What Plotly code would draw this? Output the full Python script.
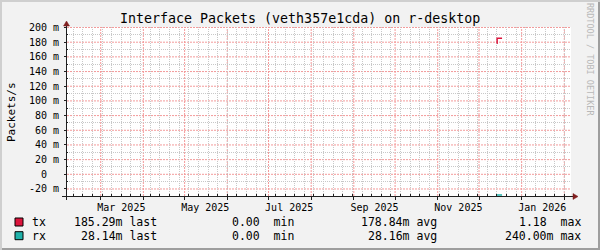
import plotly.graph_objects as go

# ---------------- data ----------------
tx_time = ["2025-12-14 00:00", "2025-12-14 04:00", "2025-12-17 18:00"]
tx_vals = [0.1785, 0.18529, 0.18529]

rx_time = ["2025-12-13 10:00", "2025-12-17 18:00"]
rx_vals = [-0.02816, -0.02814]

y_tickvals = [0.20, 0.18, 0.16, 0.14, 0.12, 0.10, 0.08, 0.06, 0.04, 0.02, 0.0, -0.02]
y_ticktext = ["200 m", "180 m", "160 m", "140 m", "120 m", "100 m", "80 m", "60 m",
              "40 m", "20 m", "0\u00a0\u00a0", "-20 m"]

month_starts = ["2025-03-01", "2025-04-01", "2025-05-01", "2025-06-01", "2025-07-01",
                "2025-08-01", "2025-09-01", "2025-10-01", "2025-11-01", "2025-12-01",
                "2026-01-01", "2026-02-01"]
month_label_pos = ["2025-03-16", "2025-05-16", "2025-07-16", "2025-09-16",
                   "2025-11-16", "2026-01-16"]
month_labels = ["Mar 2025", "May 2025", "Jul 2025", "Sep 2025", "Nov 2025", "Jan 2026"]

x_range = ["2025-02-04 12:00", "2026-02-05 21:00"]
y_range = [-0.02956, 0.2007]

legend_names = ["tx", "rx"]
legend_colors = ["#DC143C", "#20B2AA"]
legend_last = ["185.29m last", "28.14m last"]
legend_min = ["0.00\u00a0\u00a0min", "0.00\u00a0\u00a0min"]
legend_avg = ["178.84m avg", "28.16m avg"]
legend_max = ["1.18\u00a0\u00a0max", "240.00m max"]

title_text = "Interface Packets (veth357e1cda) on r-desktop"
y_title = "Packets/s"
watermark = "RRDTOOL / TOBI OETIKER"

# ---------------- layout geometry ----------------
W, H = 600, 250
L, R, T, B = 67, 571, 27, 196
PW, PH = R - L, B - T
MONO = "DejaVu Sans Mono"


def px(xp):
    return (xp - L) / PW


def py(yp):
    return (B - yp) / PH


fig = go.Figure()
fig.add_trace(go.Scatter(x=tx_time, y=tx_vals, mode="lines", line=dict(color=legend_colors[0], width=1.5, shape="hv"),
                         xaxis="x", yaxis="y", showlegend=False, hoverinfo="skip"))
fig.add_trace(go.Scatter(x=rx_time, y=rx_vals, mode="lines", line=dict(color=legend_colors[1], width=1.5),
                         xaxis="x2", yaxis="y", showlegend=False, hoverinfo="skip"))

major_grid = "#F39A9A"
minor_grid = "#C8C8C8"
major_dash = "2px,1px"
minor_dash = "1px,1px"

fig.update_layout(
    width=W, height=H,
    margin=dict(l=L, r=W - R, t=T, b=H - B, pad=0),
    paper_bgcolor="#F2F2F2", plot_bgcolor="#FFFFFF",
    showlegend=False,
    font=dict(family=MONO, size=10, color="#000000"),
    xaxis=dict(
        type="date", range=x_range, tickmode="array", tickvals=month_starts,
        showticklabels=False, showgrid=False,
        ticks="outside", ticklen=3, tickcolor="#1F1F1F", zeroline=False, showline=False,
        minor=dict(tick0="2025-03-09", dtick=7 * 86400000, showgrid=True, gridcolor=minor_grid,
                   griddash=minor_dash, ticks="inside", ticklen=2, tickcolor="#1F1F1F"),
    ),
    xaxis2=dict(
        type="date", range=x_range, overlaying="x", anchor="y", side="bottom",
        tickmode="array", tickvals=month_label_pos, ticktext=month_labels,
        showgrid=False, ticks="", zeroline=False, showline=False,
        tickfont=dict(family=MONO, size=10), ticklabelstandoff=4,
    ),
    yaxis=dict(
        range=y_range, tickmode="array", tickvals=y_tickvals, ticktext=y_ticktext,
        showgrid=False,
        ticks="outside", ticklen=2, tickcolor="#1F1F1F", zeroline=False, showline=False,
        tickfont=dict(family=MONO, size=10), ticklabelstandoff=3,
        minor=dict(dtick=0.02, tick0=0.01, showgrid=True, gridcolor=minor_grid, griddash=minor_dash,
                   ticks="inside", ticklen=1, tickcolor="#1F1F1F"),
    ),
)

shapes = []
# major grid (red dashed) through the axis scales
for m in month_starts:
    shapes.append(dict(type="line", xref="x", yref="paper", x0=m, x1=m, y0=0, y1=1,
                       line=dict(color=major_grid, width=1, dash=major_dash), layer="below"))
for v in y_tickvals:
    shapes.append(dict(type="line", xref="paper", yref="y", x0=0, x1=1, y0=v, y1=v,
                       line=dict(color=major_grid, width=1, dash=major_dash), layer="below"))

# frame shading
shapes.append(dict(type="rect", xref="paper", yref="paper", x0=px(0), x1=px(W), y0=py(0), y1=py(2),
                   fillcolor="#CFCFCF", line=dict(width=0), layer="above"))
shapes.append(dict(type="rect", xref="paper", yref="paper", x0=px(0), x1=px(2), y0=py(0), y1=py(H),
                   fillcolor="#CFCFCF", line=dict(width=0), layer="above"))
shapes.append(dict(type="rect", xref="paper", yref="paper", x0=px(2), x1=px(W), y0=py(H - 2), y1=py(H),
                   fillcolor="#9E9E9E", line=dict(width=0), layer="above"))
shapes.append(dict(type="rect", xref="paper", yref="paper", x0=px(W - 2), x1=px(W), y0=py(2), y1=py(H),
                   fillcolor="#9E9E9E", line=dict(width=0), layer="above"))
# axis lines
shapes.append(dict(type="line", xref="paper", yref="paper", x0=px(62), x1=px(574), y0=py(196.5), y1=py(196.5),
                   line=dict(color="#1F1F1F", width=1), layer="above"))
shapes.append(dict(type="line", xref="paper", yref="paper", x0=px(66.5), x1=px(66.5), y0=py(200), y1=py(24),
                   line=dict(color="#1F1F1F", width=1), layer="above"))
# arrows
arrow_col = "#801F1F"
shapes.append(dict(type="path", xref="paper", yref="paper",
                   path=f"M {px(66.5)} {py(21)} L {px(63.5)} {py(26)} L {px(69.5)} {py(26)} Z",
                   fillcolor=arrow_col, line=dict(color=arrow_col, width=0.5), layer="above"))
shapes.append(dict(type="path", xref="paper", yref="paper",
                   path=f"M {px(578)} {py(196.5)} L {px(573)} {py(193.5)} L {px(573)} {py(199.5)} Z",
                   fillcolor=arrow_col, line=dict(color=arrow_col, width=0.5), layer="above"))

annotations = []
annotations.append(dict(text=title_text, xref="paper", yref="paper", x=px(300), y=py(19),
                        xanchor="center", yanchor="middle", showarrow=False,
                        font=dict(family=MONO, size=13.3, color="#000000")))
annotations.append(dict(text=y_title, xref="paper", yref="paper", x=px(11), y=py(112),
                        xanchor="center", yanchor="middle", showarrow=False, textangle=-90,
                        font=dict(family=MONO, size=11, color="#000000")))
annotations.append(dict(text=watermark, xref="paper", yref="paper", x=px(590), y=py(59),
                        xanchor="center", yanchor="middle", showarrow=False, textangle=90,
                        font=dict(family=MONO, size=8.5, color="#B8B8B8")))

row_y = [222, 235.7]
for i in range(2):
    yc = row_y[i]
    shapes.append(dict(type="rect", xref="paper", yref="paper", x0=px(15), x1=px(23),
                       y0=py(yc - 4), y1=py(yc + 4), fillcolor=legend_colors[i],
                       line=dict(color="#000000", width=1), layer="above"))
    annotations.append(dict(text=legend_names[i], xref="paper", yref="paper", x=px(30), y=py(yc),
                            xanchor="left", yanchor="middle", showarrow=False,
                            font=dict(family=MONO, size=11.5)))
    for txt, xr in ((legend_last[i], 159), (legend_min[i], 296), (legend_avg[i], 439), (legend_max[i], 583)):
        annotations.append(dict(text=txt, xref="paper", yref="paper", x=px(xr), y=py(yc),
                                xanchor="right", yanchor="middle", showarrow=False,
                                font=dict(family=MONO, size=11.5)))

fig.update_layout(shapes=shapes, annotations=annotations)
fig.write_html("out.html")
